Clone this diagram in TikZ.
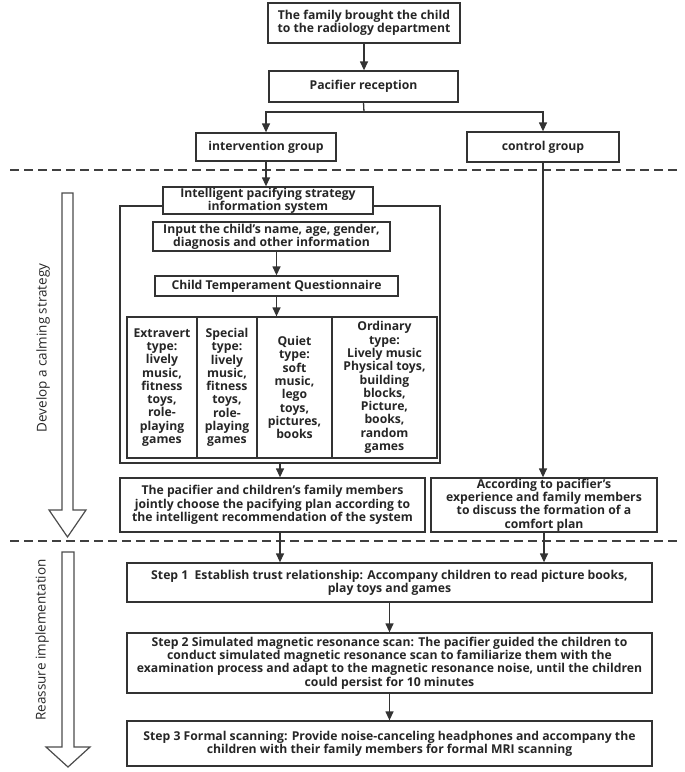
\documentclass[tikz,border=0pt]{standalone}
\usepackage{fontspec}
\setmainfont{Open Sans}
\usetikzlibrary{arrows.meta}

\begin{document}
\begin{tikzpicture}[x=1pt,y=-1pt,
    every node/.style={font=\fontsize{12.2}{13.3}\selectfont\bfseries,text=black!85},
    box/.style={draw=black!80,line width=1.3pt,fill=white,align=center,inner sep=0pt},
    flow/.style={draw=black!80,line width=1.3pt,-{Triangle[length=9pt,width=8pt]}},
    split/.style={black!75,line width=1.2pt,dash pattern=on 9pt off 5pt},
    hollow/.style={draw=black!70,line width=1.2pt,fill=white,line join=miter},
    side/.style={font=\fontsize{13.5}{14}\selectfont,rotate=90}]
    \useasboundingbox (0,0) rectangle (685,772) ;
    \draw[split] (10,170) -- (678,170) ;
    \draw[split] (10,541) -- (678,541) ;
    \node[box,minimum width=192,minimum height=40] (fam) at (364,23)
        {The family brought the child\\to the radiology department} ;
    \node[box,minimum width=189,minimum height=31] (rec) at (363.5,86.5) {Pacifier reception} ;
    \node[box,minimum width=140,minimum height=28] (intv) at (266,147) {intervention group} ;
    \node[box,minimum width=152,minimum height=30] (ctrl) at (543,147) {control group} ;
    \node[box,minimum width=320,minimum height=257] (frame) at (280,334.5) {} ;
    \node[box,minimum width=210,minimum height=27] (intel) at (268,200.5)
        {Intelligent pacifying strategy\\information system} ;
    \node[box,minimum width=237,minimum height=29] (input) at (271.5,236.5)
        {Input the child's name, age, gender,\\diagnosis and other information} ;
    \node[box,minimum width=243,minimum height=20] (ctq) at (276.5,286) {Child Temperament Questionnaire} ;
    \node[box,minimum width=70,minimum height=141] (ext) at (162,387.5)
        {Extravert\\type:\\lively\\music,\\fitness\\toys,\\role-\\playing\\games} ;
    \node[box,minimum width=60,minimum height=141] (spc) at (227,387.5)
        {Special\\type:\\lively\\music,\\fitness\\toys,\\role-\\playing\\games} ;
    \node[box,minimum width=75,minimum height=141] (qui) at (294.5,387.5)
        {Quiet\\type:\\soft\\music,\\lego\\toys,\\pictures,\\books} ;
    \node[box,minimum width=105,minimum height=141] (ord) at (384.5,387.5)
        {Ordinary\\type:\\Lively music\\Physical toys,\\building\\blocks,\\Picture,\\books,\\random\\games} ;
    \node[box,minimum width=305,minimum height=54] (plan) at (272.5,505)
        {The pacifier and children's family members\\jointly choose the pacifying plan according to\\the intelligent recommendation of the system} ;
    \node[box,minimum width=226,minimum height=54] (disc) at (544,505)
        {According to pacifier's\\experience and family members\\to discuss the formation of a\\comfort plan} ;
    \node[box,minimum width=525,minimum height=39] (step1) at (389.5,582.5)
        {Step 1\ \ Establish trust relationship: Accompany children to read picture books,\\play toys and games} ;
    \node[box,minimum width=525,minimum height=60] (step2) at (389.5,663)
        {Step 2 Simulated magnetic resonance scan: The pacifier guided the children to\\conduct simulated magnetic resonance scan to familiarize them with the\\examination process and adapt to the magnetic resonance noise, until the children\\could persist for 10 minutes} ;
    \node[box,minimum width=525,minimum height=45] (step3) at (389.5,743.5)
        {Step 3 Formal scanning: Provide noise-canceling headphones and accompany the\\children with their family members for formal MRI scanning} ;
    \coordinate (fork) at (364,112) ;
    \draw[flow] (fam.south) -- (fam.south |- rec.north) ;
    \draw[draw=black!80,line width=1.3pt] (rec.south) -- (fork) ;
    \draw[flow] (fork) -| (intv.north) ;
    \draw[flow] (fork) -| (ctrl.north) ;
    \draw[flow] (intv.south) -- (intv.south |- intel.north) ;
    \draw[flow] (input.south -| ctq.north) -- (ctq.north) ;
    \draw[flow] (ctq.south) -- (ctq.south |- qui.north) ;
    \draw[flow] (frame.south) -- (frame.south |- plan.north) ;
    \draw[flow] (ctrl.south) -- (ctrl.south |- disc.north) ;
    \draw[flow] (frame.south |- plan.south) -- (frame.south |- step1.north) ;
    \draw[flow] (disc.south) -- (disc.south |- step1.north) ;
    \draw[flow] (step1) -- (step2) ;
    \draw[flow] (step2) -- (step3) ;
    \draw[hollow] (62,193) -- (73,193) -- (73,510) -- (86,510) -- (67.5,537) -- (49,510) -- (62,510) -- cycle ;
    \draw[hollow] (62,552) -- (74,552) -- (74,747) -- (90,747) -- (68,767) -- (46,747) -- (62,747) -- cycle ;
    \node[side] (devlabel) at (43,348) {Develop a calming strategy} ;
    \node[side] (reslabel) at (42,640) {Reassure implementation} ;
\end{tikzpicture}
\end{document}
